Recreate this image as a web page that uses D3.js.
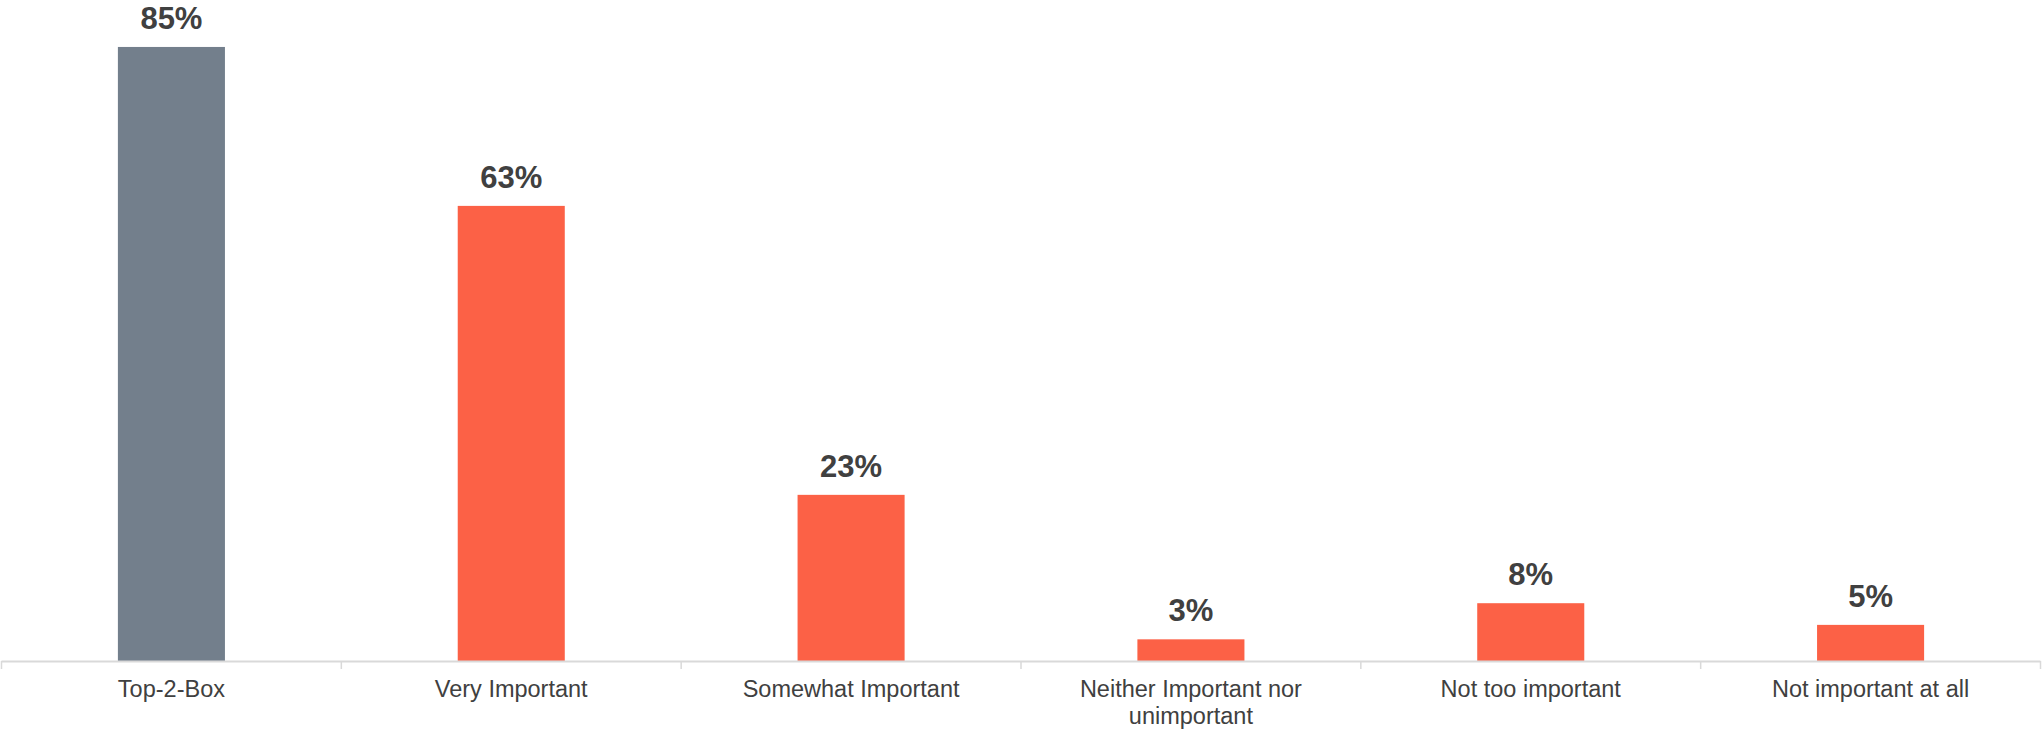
<!DOCTYPE html>
<html>
<head>
<meta charset="utf-8">
<script src="https://cdn.jsdelivr.net/npm/d3@7"></script>
<style>
  html, body { margin: 0; padding: 0; background: #ffffff; }
  svg { display: block; }
</style>
</head>
<body>
<div id="chart"></div>
<script>
// Importance ratings (percent of respondents)
const categories = [
  "Top-2-Box",
  "Very Important",
  "Somewhat Important",
  "Neither Important nor unimportant",
  "Not too important",
  "Not important at all"
];
const values = [85, 63, 23, 3, 8, 5];
const valueLabels = ["85%", "63%", "23%", "3%", "8%", "5%"];
// Category labels split across lines where they wrap
const categoryLines = [
  ["Top-2-Box"],
  ["Very Important"],
  ["Somewhat Important"],
  ["Neither Important nor", "unimportant"],
  ["Not too important"],
  ["Not important at all"]
];
const barColors = ["#737f8c", "#fc6146", "#fc6146", "#fc6146", "#fc6146", "#fc6146"];

const width = 2042, height = 731;
const axisY = 661;

const svg = d3.select("#chart").append("svg")
  .attr("width", width)
  .attr("height", height);

const x = d3.scaleBand()
  .domain(categories)
  .range([1.5, 2040.5])
  .paddingInner(0)
  .paddingOuter(0);

const y = d3.scaleLinear()
  .domain([0, 91.5])
  .range([axisY, 0]);

const barFrac = 0.315;
const barW = x.bandwidth() * barFrac;

// Bars
svg.append("g").selectAll("rect")
  .data(categories)
  .join("rect")
  .attr("x", d => x(d) + (x.bandwidth() - barW) / 2)
  .attr("y", (d, i) => y(values[i]))
  .attr("width", barW)
  .attr("height", (d, i) => axisY - y(values[i]))
  .attr("fill", (d, i) => barColors[i]);

// Value labels above bars
svg.append("g").selectAll("text")
  .data(categories)
  .join("text")
  .attr("x", d => x(d) + x.bandwidth() / 2)
  .attr("y", (d, i) => y(values[i]) - 18)
  .attr("text-anchor", "middle")
  .attr("font-family", "'Liberation Sans', Arial, sans-serif")
  .attr("font-weight", "bold")
  .attr("font-size", 31)
  .attr("fill", "#404040")
  .text((d, i) => valueLabels[i]);

// Category axis: baseline with ticks at band boundaries
const axisG = svg.append("g");
axisG.append("line")
  .attr("x1", x.range()[0])
  .attr("x2", x.range()[1])
  .attr("y1", axisY + 0.5)
  .attr("y2", axisY + 0.5)
  .attr("stroke", "#d9d9d9")
  .attr("stroke-width", 2);

const tickPositions = categories.map(d => x(d)).concat([x.range()[1]]);
axisG.selectAll("line.tick")
  .data(tickPositions)
  .join("line")
  .attr("class", "tick")
  .attr("x1", d => d)
  .attr("x2", d => d)
  .attr("y1", axisY)
  .attr("y2", axisY + 8)
  .attr("stroke", "#d9d9d9")
  .attr("stroke-width", 1.5);

const labelG = axisG.selectAll("text")
  .data(categories)
  .join("text")
  .attr("x", d => x(d) + x.bandwidth() / 2)
  .attr("y", 697)
  .attr("text-anchor", "middle")
  .attr("font-family", "'Liberation Sans', Arial, sans-serif")
  .attr("font-size", 23.5)
  .attr("fill", "#404040");

labelG.each(function(d, i) {
  const t = d3.select(this);
  categoryLines[i].forEach((line, j) => {
    t.append("tspan")
      .attr("x", x(d) + x.bandwidth() / 2)
      .attr("dy", j === 0 ? 0 : 27)
      .text(line);
  });
});
</script>
</body>
</html>
